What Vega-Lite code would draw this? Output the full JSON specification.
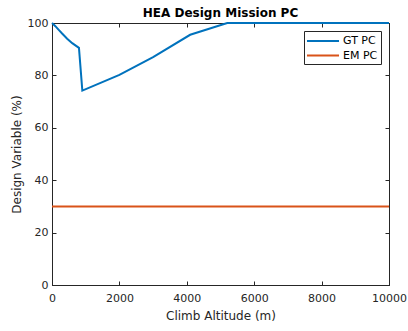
{
  "$schema": "https://vega.github.io/schema/vega-lite/v6.json",
  "width": 337,
  "height": 262,
  "autosize": {"type": "none"},
  "padding": {"left": 52, "top": 23, "right": 19, "bottom": 46},
  "background": "white",
  "title": {"text": "HEA Design Mission PC", "fontSize": 12, "fontWeight": "bold", "font": "DejaVu Sans", "color": "#000000", "offset": -3},
  "config": {
    "view": {"stroke": "#262626", "strokeWidth": 1},
    "axis": {"grid": false, "domainColor": "#262626", "tickColor": "#262626", "labelColor": "#262626", "titleColor": "#262626", "labelFont": "DejaVu Sans", "titleFont": "DejaVu Sans", "labelFontSize": 11, "titleFontSize": 12, "titleFontWeight": "normal", "tickSize": -4, "format": "d", "labelFlush": false},
    "legend": {"strokeColor": "#262626", "fillColor": "#ffffff", "strokeWidth": 1}
  },
  "data": {"values": [
    {"alt": 0, "val": 100, "series": "GT PC"},
    {"alt": 100, "val": 98.8, "series": "GT PC"},
    {"alt": 200, "val": 97.4, "series": "GT PC"},
    {"alt": 300, "val": 96.0, "series": "GT PC"},
    {"alt": 450, "val": 94.0, "series": "GT PC"},
    {"alt": 600, "val": 92.3, "series": "GT PC"},
    {"alt": 800, "val": 90.5, "series": "GT PC"},
    {"alt": 900, "val": 74.2, "series": "GT PC"},
    {"alt": 2000, "val": 80.2, "series": "GT PC"},
    {"alt": 3000, "val": 87.0, "series": "GT PC"},
    {"alt": 4100, "val": 95.5, "series": "GT PC"},
    {"alt": 5200, "val": 100, "series": "GT PC"},
    {"alt": 10000, "val": 100, "series": "GT PC"},
    {"alt": 0, "val": 30, "series": "EM PC"},
    {"alt": 10000, "val": 30, "series": "EM PC"}
  ]},
  "layer": [
    {
      "mark": {"type": "line", "strokeWidth": 2, "clip": false},
      "encoding": {
        "x": {"field": "alt", "type": "quantitative", "scale": {"domain": [0, 10000], "nice": false}, "axis": {"orient": "bottom", "title": "Climb Altitude (m)", "values": [0, 2000, 4000, 6000, 8000, 10000], "labelPadding": 11, "titlePadding": 7}},
        "y": {"field": "val", "type": "quantitative", "scale": {"domain": [0, 100], "nice": false}, "axis": {"orient": "left", "title": "Design Variable (%)", "values": [0, 20, 40, 60, 80, 100], "labelPadding": 8, "titlePadding": 4}},
        "color": {"field": "series", "type": "nominal", "sort": ["GT PC", "EM PC"], "scale": {"domain": ["GT PC", "EM PC"], "range": ["#0072BD", "#D95319"]},
          "legend": {"title": null, "orient": "top-right", "offset": 8, "symbolType": "M-1.17,0H4.17", "symbolSize": 144, "symbolStrokeWidth": 2, "labelFont": "DejaVu Sans", "labelFontSize": 11, "labelColor": "#000000", "labelOffset": 22, "rowPadding": 2.5, "padding": 3, "strokeColor": "#262626", "fillColor": "#ffffff"}}
      }
    },
    {
      "mark": {"type": "line", "strokeOpacity": 0},
      "encoding": {
        "x": {"field": "alt", "type": "quantitative", "axis": {"orient": "top", "labels": false, "title": null, "values": [0, 2000, 4000, 6000, 8000, 10000]}},
        "y": {"field": "val", "type": "quantitative", "axis": {"orient": "right", "labels": false, "title": null, "values": [0, 20, 40, 60, 80, 100]}}
      }
    }
  ],
  "resolve": {"axis": {"x": "independent", "y": "independent"}}
}
